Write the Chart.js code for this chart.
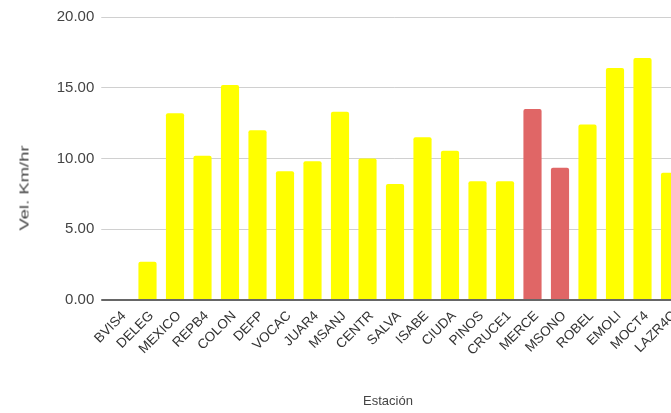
<!DOCTYPE html>
<html>
<head>
<meta charset="utf-8">
<script src="https://cdn.jsdelivr.net/npm/chart.js@4/dist/chart.umd.min.js"></script>
<style>
  html, body { margin: 0; padding: 0; background: #fff; overflow: hidden; }
  #wrap { position: relative; width: 671px; height: 413px; overflow: hidden; }
  #chart { position: absolute; left: 0; top: 0; }
  .axis-title { position: absolute; font-family: 'Liberation Sans', Arial, sans-serif; font-size: 13px; color: #444; white-space: nowrap; }
  #ytitle { left: 24px; top: 188px; transform: translate(-50%, -50%) rotate(-90deg) scaleX(1.42); }
  #xtitle { left: 388px; top: 400px; transform: translate(-50%, -50%); }
</style>
</head>
<body>
<div id="wrap">
  <canvas id="chart" width="700" height="413"></canvas>
  <div class="axis-title" id="ytitle">Vel. Km/hr</div>
  <div class="axis-title" id="xtitle">Estación</div>
</div>
<script>
// estaciones y velocidad media
const estaciones = ['BVIS4', 'DELEG', 'MEXICO', 'REPB4', 'COLON', 'DEFP', 'VOCAC', 'JUAR4',
  'MSANJ', 'CENTR', 'SALVA', 'ISABE', 'CIUDA', 'PINOS', 'CRUCE1', 'MERCE', 'MSONO',
  'ROBEL', 'EMOLI', 'MOCT4', 'LAZR4C'];
const velocidad = [0, 2.7, 13.2, 10.2, 15.2, 12.0, 9.1, 9.8,
  13.3, 10.0, 8.2, 11.5, 10.55, 8.4, 8.4, 13.5, 9.35,
  12.4, 16.4, 17.1, 9.0];
const resaltadas = ['MERCE', 'MSONO'];
const yTicks = [0, 5, 10, 15, 20];

const AMARILLO = '#ffff00';
const ROJO = '#e06666';

var colores = estaciones.map(function(e) {
  return resaltadas.indexOf(e) >= 0 ? ROJO : AMARILLO;
});

var ctx = document.getElementById('chart').getContext('2d');
new Chart(ctx, {
  type: 'bar',
  data: {
    labels: estaciones,
    datasets: [{
      label: 'Vel. Km/hr',
      data: velocidad,
      backgroundColor: colores,
      borderWidth: 0,
      borderRadius: { topLeft: 2, topRight: 2 },
      borderSkipped: 'bottom',
      categoryPercentage: 1,
      barPercentage: 0.66
    }]
  },
  options: {
    responsive: false,
    animation: false,
    layout: { padding: { top: 17, right: 16.25, left: 0, bottom: 0 } },
    plugins: { legend: { display: false }, tooltip: { enabled: false } },
    scales: {
      x: {
        grid: { display: false, drawTicks: false },
        border: { display: false },
        ticks: {
          autoSkip: false,
          maxRotation: 45,
          minRotation: 45,
          padding: 8,
          labelOffset: 4,
          color: '#333',
          font: { family: "'Liberation Sans', Arial, sans-serif", size: 13.5 }
        },
        afterFit: function(scale) { scale.height = 113; }
      },
      y: {
        min: 0,
        max: 20,
        afterBuildTicks: function(scale) {
          scale.ticks = yTicks.map(function(v) { return { value: v }; });
        },
        grid: {
          tickLength: 5,
          color: function(c) { return c.tick && c.tick.value === 0 ? '#666' : '#d0d0d0'; },
          lineWidth: function(c) { return c.tick && c.tick.value === 0 ? 2 : 1; }
        },
        border: { display: false },
        ticks: {
          padding: 7,
          color: '#444',
          font: { family: "'Liberation Sans', Arial, sans-serif", size: 15 },
          callback: function(v) { return Number(v).toFixed(2); }
        },
        afterFit: function(scale) { scale.width = 106.25; }
      }
    }
  }
});
</script>
</body>
</html>
